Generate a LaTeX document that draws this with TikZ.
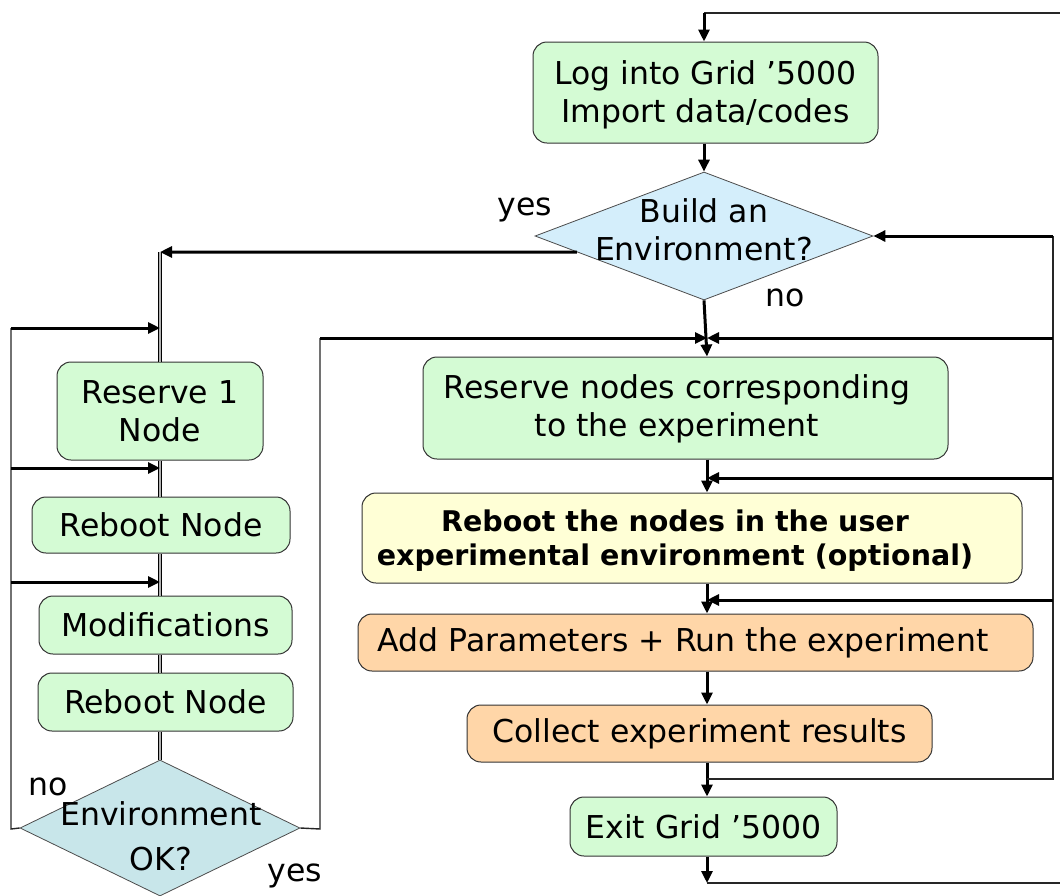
\documentclass[tikz,border=0pt]{standalone}
\usepackage{fontspec}
\setmainfont{DejaVu Sans}
\usetikzlibrary{shapes.geometric,arrows.meta,calc}

\definecolor{boxgreen}{RGB}{212,251,212}
\definecolor{askblue}{RGB}{212,238,251}
\definecolor{askteal}{RGB}{200,230,234}
\definecolor{boxyellow}{RGB}{255,255,214}
\definecolor{boxpeach}{RGB}{255,214,168}

\tikzset{
  box/.style={draw=black!80, line width=1pt, rounded corners=14pt, align=center,
    inner sep=0pt, font=\fontsize{31.5}{38}\selectfont},
  greenbox/.style={box, fill=boxgreen},
  yellowbox/.style={box, fill=boxyellow},
  peachbox/.style={box, fill=boxpeach},
  askshape/.style={diamond, draw=black!70, line width=0.8pt, inner sep=0pt},
  asktext/.style={align=center, inner sep=0pt, font=\fontsize{31.5}{38}\selectfont},
  lbl/.style={inner sep=0pt, font=\fontsize{31.5}{38}\selectfont},
  thick line/.style={line width=3pt, black},
  thin line/.style={line width=1.4pt, black!85},
  dbl line/.style={line width=1.4pt, black, double=black!30, double distance=1.8pt},
  arr/.style={-{Triangle[length=12pt,width=11pt]}},
}

\begin{document}
\begin{tikzpicture}[x=1pt,y=-1pt]
\useasboundingbox (0,0) rectangle (1060,895);

% ---------- right column ----------
\node[greenbox, minimum width=345pt, minimum height=101pt] (log) at (705.5,92.5) {};
\node[asktext] (logt) at (705.5,95) {Log into Grid ’5000\\Import data/codes};
\node[askshape, fill=askblue, minimum width=338pt, minimum height=128pt] (d1) at (704,236) {};
\node[asktext] (d1t) at (704,230) {Build an\\Environment?};
\node[greenbox, minimum width=525pt, minimum height=102pt] (rn) at (685.5,408) {};
\node[asktext] (rnt) at (677,409) {Reserve nodes corresponding\\to the experiment};
\node[yellowbox, minimum width=660pt, minimum height=90pt] (rb) at (692,538) {};
\node[asktext, font=\fontsize{28.5}{34}\selectfont\bfseries] (rbt) at (675,541)
  {Reboot the nodes in the user\\experimental environment (optional)};
\node[peachbox, minimum width=675pt, minimum height=57pt] (ap) at (695.5,642.5) {};
\node[asktext] (apt) at (683,643) {Add Parameters + Run the experiment};
\node[peachbox, minimum width=465pt, minimum height=57pt] (cr) at (699.5,733.5)
  {Collect experiment results};
\node[greenbox, minimum width=267pt, minimum height=59pt] (ex) at (703.5,826.5)
  {Exit Grid ’5000};

% ---------- left column ----------
\node[greenbox, minimum width=206pt, minimum height=98pt] (r1) at (160,411)
  {Reserve 1\\Node};
\node[greenbox, minimum width=258pt, minimum height=56pt] (rb1) at (161,525)
  {Reboot Node};
\node[greenbox, minimum width=253pt, minimum height=58pt] (mod) at (165.5,625)
  {Modifications};
\node[greenbox, minimum width=255pt, minimum height=58pt] (rb2) at (165.5,702)
  {Reboot Node};
\node[askshape, fill=askteal, minimum width=280pt, minimum height=136pt] (d2) at (160,828) {};
\node[asktext, font=\fontsize{31.5}{45}\selectfont] (d2t) at (161,836) {Environment\\OK?};

% ---------- branch labels ----------
\node[lbl] (yes1) at (525,210) {yes};
\node[lbl] (no1) at (785,298) {no};
\node[lbl] (no2) at (48,787) {no};
\node[lbl] (yes2) at (295,876) {yes};

% ---------- helper coordinates ----------
\coordinate (colx) at (707,0);
\coordinate (lcol) at (160,0);
\coordinate (topc) at (704,13);
\coordinate (topin) at (1060,13);
\coordinate (yesout) at ($(d1.west)!0.25!(d1.south)$);
\coordinate (ycorner) at (160,252);
\coordinate (lb) at (11,829);
\coordinate (l1) at (11,328);
\coordinate (l2) at (11,468);
\coordinate (l3) at (11,582);
\coordinate (okc) at (320,829);
\coordinate (okt) at (320,338);
\coordinate (rtop) at (1053,236);
\coordinate (rbot) at (1053,779);
\coordinate (r1y) at (1053,338);
\coordinate (r2y) at (1053,478);
\coordinate (r3y) at (1053,600);
\coordinate (fork) at (707,779);
\coordinate (exc) at (707,883);
\coordinate (exout) at (1060,883);

% ---------- connectors: main column ----------
\draw[thin line] (topin) -- (topc);
\draw[thick line, arr] (topc) -- (log.north -| topc);
\draw[thick line, arr] (log.south -| topc) -- (d1.north);
\draw[thick line, arr] (d1.south) -- (rn.north -| colx);
\draw[thick line, arr] (rn.south -| colx) -- (rb.north -| colx);
\draw[thick line, arr] (rb.south -| colx) -- (ap.north -| colx);
\draw[thick line, arr] (ap.south -| colx) -- (cr.north -| colx);
\draw[thick line, arr] (cr.south -| colx) -- (ex.north -| colx);
\draw[thick line, arr] (ex.south -| colx) -- (exc);
\draw[thin line] (exc) -- (exout);

% ---------- connectors: loop on the right ----------
\draw[thin line] (fork) -- (rbot) -- (rtop);
\draw[thick line, arr] (rtop) -- (d1.east);
\draw[thick line, arr] (r1y) -- (r1y -| colx);
\draw[thick line, arr] (r2y) -- (r2y -| colx);
\draw[thick line, arr] (r3y) -- (r3y -| colx);

% ---------- connectors: environment branch ----------
\draw[thick line, arr] (yesout) -- (ycorner);
\draw[dbl line] (ycorner) -- (r1.north -| lcol);
\draw[dbl line] (r1.south -| lcol) -- (rb1.north -| lcol);
\draw[dbl line] (rb1.south -| lcol) -- (mod.north -| lcol);
\draw[dbl line] (mod.south -| lcol) -- (rb2.north -| lcol);
\draw[dbl line] (rb2.south -| lcol) -- (d2.north);

% "no" loop back on the left
\draw[thin line] (d2.west) -- (lb) -- (l1);
\draw[thick line, arr] (l1) -- (l1 -| lcol);
\draw[thick line, arr] (l2) -- (l2 -| lcol);
\draw[thick line, arr] (l3) -- (l3 -| lcol);

% "yes" back into the main column
\draw[thin line] (d2.east) -- (okc) -- (okt);
\draw[thick line, arr] (okt) -- (okt -| colx);
\end{tikzpicture}
\end{document}
